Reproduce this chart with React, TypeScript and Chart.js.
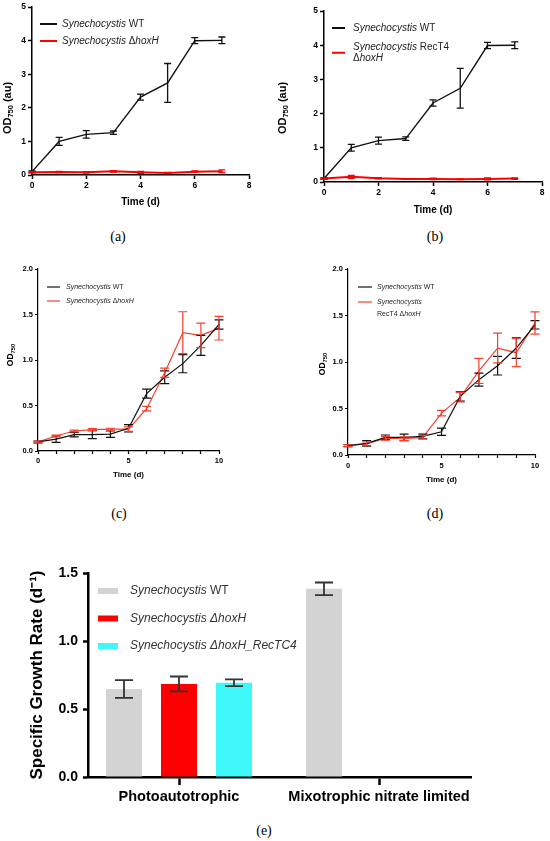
import React, { useEffect, useRef } from 'react';
import { Chart, registerables } from 'chart.js';

Chart.register(...registerables);

const FONT = "'Liberation Sans', Arial, Helvetica, sans-serif";
const SERIF = "'Liberation Serif', 'Times New Roman', serif";

// ---------- data ----------
const daysAB = [0, 1, 2, 3, 4, 5, 6, 7];
const wtA = [0.1, 1.0, 1.21, 1.26, 2.32, 2.74, 4.0, 4.01];
const wtAErr = [0.02, 0.12, 0.11, 0.05, 0.09, 0.58, 0.09, 0.1];
const hoxA = [0.08, 0.09, 0.08, 0.11, 0.08, 0.06, 0.1, 0.11];
const hoxAErr = [0.02, 0.02, 0.02, 0.02, 0.03, 0.02, 0.02, 0.04];

const wtB = [0.1, 1.0, 1.21, 1.27, 2.31, 2.74, 3.99, 4.0];
const wtBErr = [0.02, 0.1, 0.1, 0.05, 0.09, 0.58, 0.09, 0.1];
const recB = [0.1, 0.15, 0.11, 0.09, 0.09, 0.08, 0.09, 0.1];
const recBErr = [0.02, 0.04, 0.02, 0.01, 0.02, 0.01, 0.03, 0.02];

const daysCD = [0, 1, 2, 3, 4, 5, 6, 7, 8, 9, 10];
const wtC = [0.1, 0.13, 0.18, 0.18, 0.185, 0.25, 0.63, 0.81, 0.96, 1.16, 1.39];
const wtCErr = [0.01, 0.035, 0.025, 0.045, 0.035, 0.04, 0.05, 0.07, 0.1, 0.11, 0.05];
const hoxC = [0.1, 0.165, 0.22, 0.235, 0.24, 0.24, 0.465, 0.86, 1.3, 1.27, 1.35];
const hoxCErr = [0.01, 0.01, 0.01, 0.01, 0.01, 0.025, 0.025, 0.05, 0.23, 0.135, 0.13];

const wtD = [0.1, 0.125, 0.19, 0.19, 0.2, 0.25, 0.63, 0.81, 0.96, 1.15, 1.4];
const wtDErr = [0.01, 0.03, 0.025, 0.035, 0.025, 0.04, 0.05, 0.07, 0.1, 0.11, 0.045];
const recD = [0.1, 0.12, 0.18, 0.175, 0.19, 0.45, 0.62, 0.905, 1.15, 1.1, 1.42];
const recDErr = [0.01, 0.02, 0.02, 0.02, 0.02, 0.03, 0.05, 0.135, 0.16, 0.15, 0.12];

const rateCategories = ['Photoautotrophic', 'Mixotrophic nitrate limited'];
const wtRates = [0.647, 1.384];
const wtRateErr = [0.065, 0.046];
const hoxRates = [0.684, null];
const hoxRateErr = [0.055, null];
const recRates = [0.693, null];
const recRateErr = [0.025, null];

const xTicksAB = [0, 2, 4, 6, 8];
const yTicksAB = [0, 1, 2, 3, 4, 5];
const ticksCD = [0, 1, 2, 3, 4, 5, 6, 7, 8, 9, 10];
const xLabelsCD = [0, 5, 10];
const yTicksCD = [0, 0.5, 1, 1.5, 2];
const yTicksE = [0, 0.5, 1, 1.5];

// axis title parts: [text, subscript]
const OD_AU = [['OD', false], ['750', true], [' (au)', false]];
const OD_ONLY = [['OD', false], ['750', true]];

// legend labels: [text, italic]
const LBL_WT = [[['Synechocystis', true], [' WT', false]]];
const LBL_HOX = [[['Synechocystis ', true], ['\u0394', false], ['hoxH', true]]];
const LBL_REC_B = [[['Synechocystis', true], [' RecT4', false]], [['\u0394', false], ['hoxH', true]]];
const LBL_REC_D = [[['Synechocystis', true]], [['RecT4 ', false], ['\u0394', false], ['hoxH', true]]];
const LBL_E_WT = [[['Synechocystis', true], [' WT', false]]];
const LBL_E_HOX = [[['Synechocystis \u0394hoxH', true]]];
const LBL_E_REC = [[['Synechocystis \u0394hoxH_RecTC4', true]]];

// ---------- plugins ----------
function makeErrorBarPlugin(capHalf: number, width: number) {
  return {
    id: 'errorBars',
    afterDatasetsDraw(chart: any) {
      const ctx = chart.ctx;
      const yScale = chart.scales.y;
      chart.data.datasets.forEach((ds: any, di: number) => {
        const errs = ds.errorBars;
        if (!errs) return;
        const meta = chart.getDatasetMeta(di);
        if (meta.hidden) return;
        ctx.save();
        ctx.strokeStyle = ds.errorColor || ds.borderColor;
        ctx.lineWidth = width;
        meta.data.forEach((el: any, i: number) => {
          const raw = ds.data[i];
          const v = raw ? raw.y : null;
          const e = errs[i];
          if (v == null || e == null) return;
          const x = el.x;
          const yt = yScale.getPixelForValue(v + e);
          const yb = yScale.getPixelForValue(v - e);
          ctx.beginPath();
          ctx.moveTo(x, yt);
          ctx.lineTo(x, yb);
          ctx.moveTo(x - capHalf, yt);
          ctx.lineTo(x + capHalf, yt);
          ctx.moveTo(x - capHalf, yb);
          ctx.lineTo(x + capHalf, yb);
          ctx.stroke();
        });
        ctx.restore();
      });
    },
  };
}

function makeLegendPlugin(cfg: any) {
  return {
    id: 'richLegend',
    afterDraw(chart: any) {
      const ctx = chart.ctx;
      ctx.save();
      ctx.textBaseline = 'middle';
      ctx.textAlign = 'left';
      cfg.items.forEach((item: any, i: number) => {
        const y = cfg.y + i * cfg.rowGap;
        const nLines = item.lines.length;
        const sy = cfg.sampleAlign === 'middle' ? y + ((nLines - 1) * cfg.lineH) / 2 : y;
        if (cfg.kind === 'box') {
          ctx.fillStyle = item.color;
          ctx.fillRect(cfg.x, sy - cfg.boxH / 2, cfg.sampleW, cfg.boxH);
        } else {
          ctx.strokeStyle = item.color;
          ctx.lineWidth = cfg.lineW;
          ctx.beginPath();
          ctx.moveTo(cfg.x, sy);
          ctx.lineTo(cfg.x + cfg.sampleW, sy);
          ctx.stroke();
        }
        ctx.fillStyle = cfg.textColor || '#222';
        item.lines.forEach((line: any, li: number) => {
          let tx = cfg.x + cfg.sampleW + cfg.gap;
          const ly = y + li * cfg.lineH;
          line.forEach((part: any) => {
            ctx.font = `${part[1] ? 'italic ' : ''}${cfg.size}px ${FONT}`;
            ctx.fillText(part[0], tx, ly);
            tx += ctx.measureText(part[0]).width;
          });
        });
      });
      ctx.restore();
    },
  };
}

// rotated y-axis title with a real subscript
function makeYTitlePlugin(cfg: any) {
  return {
    id: 'yTitleSub',
    afterDraw(chart: any) {
      const ctx = chart.ctx;
      ctx.save();
      ctx.translate(cfg.x, cfg.y);
      ctx.rotate(-Math.PI / 2);
      ctx.fillStyle = '#000';
      ctx.textBaseline = 'middle';
      ctx.textAlign = 'left';
      const fontFor = (sub: boolean) => `bold ${sub ? cfg.size * 0.68 : cfg.size}px ${FONT}`;
      let total = 0;
      cfg.parts.forEach((p: any) => {
        ctx.font = fontFor(p[1]);
        total += ctx.measureText(p[0]).width;
      });
      let tx = -total / 2;
      cfg.parts.forEach((p: any) => {
        ctx.font = fontFor(p[1]);
        ctx.fillText(p[0], tx, p[1] ? cfg.size * 0.3 : 0);
        tx += ctx.measureText(p[0]).width;
      });
      ctx.restore();
    },
  };
}

// ---------- configs ----------
function lineConfig(p: any) {
  const { rect, area } = p;
  const datasets = p.series.map((s: any) => ({
    data: s.x.map((d: number, i: number) => ({ x: d, y: s.y[i] })),
    errorBars: s.err,
    borderColor: s.color,
    borderWidth: s.width,
    pointRadius: 0,
    pointHoverRadius: 0,
    tension: 0,
    fill: false,
    clip: false,
  }));
  const axisCommon = (tickLen: number) => ({
    grid: {
      display: true,
      drawOnChartArea: false,
      drawTicks: true,
      tickLength: tickLen,
      tickWidth: p.axisWidth,
      tickColor: '#000',
      color: '#000',
    },
    border: { display: true, color: '#000', width: p.axisWidth },
  });
  return {
    type: 'line',
    data: { datasets },
    plugins: [
      makeErrorBarPlugin(p.capHalf, p.errWidth),
      makeLegendPlugin(p.legend),
      makeYTitlePlugin(p.yTitle),
    ],
    options: {
      responsive: false,
      animation: false,
      events: [],
      layout: { padding: { top: area.top, right: rect.w - area.right, left: 0, bottom: 0 } },
      plugins: { legend: { display: false }, tooltip: { enabled: false }, title: { display: false } },
      scales: {
        x: {
          type: 'linear',
          min: 0,
          max: p.xMax,
          afterBuildTicks: (s: any) => {
            s.ticks = p.xTicks.map((v: number) => ({ value: v }));
          },
          ticks: {
            autoSkip: false,
            maxRotation: 0,
            font: { family: FONT, size: p.tickSize, weight: 'bold' },
            color: '#000',
            padding: p.xTickPad,
            callback: (v: any) => (p.xLabels.includes(v) ? String(v) : ''),
          },
          ...axisCommon(p.tickLen),
          title: {
            display: true,
            text: 'Time (d)',
            color: '#000',
            font: { family: FONT, size: p.xTitleSize, weight: 'bold' },
            padding: { top: 0, bottom: rect.h - p.xTitleY - (p.xTitleSize * 1.2) / 2 },
          },
          afterFit: (s: any) => {
            s.height = rect.h - area.bottom;
          },
        },
        y: {
          type: 'linear',
          min: 0,
          max: p.yMax,
          afterBuildTicks: (s: any) => {
            s.ticks = p.yTicks.map((v: number) => ({ value: v }));
          },
          ticks: {
            font: { family: FONT, size: p.tickSize, weight: 'bold' },
            color: '#000',
            padding: p.yTickPad,
            callback: (v: any) => Number(v).toFixed(p.yDecimals),
          },
          ...axisCommon(p.tickLen),
          title: { display: false },
          afterFit: (s: any) => {
            s.width = area.left;
          },
        },
      },
    },
  };
}

const panelA = {
  rect: { x: 0, y: 0, w: 275, h: 215 },
  area: { left: 32, top: 7, right: 249, bottom: 175 },
  xMax: 8, xTicks: xTicksAB, xLabels: xTicksAB,
  yMax: 5, yTicks: yTicksAB, yDecimals: 0,
  tickSize: 8.5, tickLen: 4, xTickPad: 2, yTickPad: 2, axisWidth: 1.5,
  xTitleSize: 10, xTitleY: 202,
  yTitle: { parts: OD_AU, size: 11, x: 8, y: 108 },
  capHalf: 3.5, errWidth: 1.3,
  series: [
    { x: daysAB, y: wtA, err: wtAErr, color: '#111', width: 1.4 },
    { x: daysAB, y: hoxA, err: hoxAErr, color: '#ff0000', width: 2 },
  ],
  legend: {
    x: 40, y: 24, rowGap: 17, sampleW: 17, gap: 5, size: 10, lineH: 11.5, kind: 'line', lineW: 2,
    items: [ { color: '#111', lines: LBL_WT }, { color: '#ff0000', lines: LBL_HOX } ],
  },
};

const panelB = {
  rect: { x: 275, y: 0, w: 275, h: 220 },
  area: { left: 49, top: 11, right: 267, bottom: 182 },
  xMax: 8, xTicks: xTicksAB, xLabels: xTicksAB,
  yMax: 5, yTicks: yTicksAB, yDecimals: 0,
  tickSize: 8.5, tickLen: 4, xTickPad: 2, yTickPad: 2, axisWidth: 1.5,
  xTitleSize: 10, xTitleY: 210,
  yTitle: { parts: OD_AU, size: 11, x: 8, y: 108 },
  capHalf: 3.5, errWidth: 1.3,
  series: [
    { x: daysAB, y: wtB, err: wtBErr, color: '#111', width: 1.4 },
    { x: daysAB, y: recB, err: recBErr, color: '#ff0000', width: 2 },
  ],
  legend: {
    x: 57, y: 28, rowGap: 19, sampleW: 13, gap: 8, size: 10, lineH: 11.5, kind: 'line', lineW: 2,
    sampleAlign: 'middle',
    items: [ { color: '#111', lines: LBL_WT }, { color: '#ff0000', lines: LBL_REC_B } ],
  },
};

const panelC = {
  rect: { x: 0, y: 255, w: 275, h: 230 },
  area: { left: 38, top: 14, right: 219, bottom: 196 },
  xMax: 10, xTicks: ticksCD, xLabels: xLabelsCD,
  yMax: 2, yTicks: yTicksCD, yDecimals: 1,
  tickSize: 7.5, tickLen: 3, xTickPad: 2, yTickPad: 2, axisWidth: 1.2,
  xTitleSize: 8, xTitleY: 220,
  yTitle: { parts: OD_ONLY, size: 8.5, x: 11, y: 100 },
  capHalf: 4.5, errWidth: 1.2,
  series: [
    { x: daysCD, y: wtC, err: wtCErr, color: '#111', width: 1.2 },
    { x: daysCD, y: hoxC, err: hoxCErr, color: '#f5412d', width: 1.2 },
  ],
  legend: {
    x: 47, y: 32, rowGap: 14, sampleW: 13, gap: 6, size: 7, lineH: 11, kind: 'line', lineW: 1.2,
    items: [ { color: '#111', lines: LBL_WT }, { color: '#f5412d', lines: LBL_HOX } ],
  },
};

const panelD = {
  rect: { x: 310, y: 255, w: 240, h: 235 },
  area: { left: 38, top: 14, right: 225, bottom: 200 },
  xMax: 10, xTicks: ticksCD, xLabels: xLabelsCD,
  yMax: 2, yTicks: yTicksCD, yDecimals: 1,
  tickSize: 7.5, tickLen: 3, xTickPad: 3, yTickPad: 2, axisWidth: 1.2,
  xTitleSize: 8, xTitleY: 225,
  yTitle: { parts: OD_ONLY, size: 8.5, x: 13, y: 109 },
  capHalf: 4.5, errWidth: 1.2,
  series: [
    { x: daysCD, y: wtD, err: wtDErr, color: '#111', width: 1.2 },
    { x: daysCD, y: recD, err: recDErr, color: '#f5412d', width: 1.2 },
  ],
  legend: {
    x: 48, y: 32, rowGap: 15, sampleW: 14, gap: 5, size: 7, lineH: 12, kind: 'line', lineW: 1.2,
    sampleAlign: 'first',
    items: [ { color: '#111', lines: LBL_WT }, { color: '#f5412d', lines: LBL_REC_D } ],
  },
};

const rectE = { x: 0, y: 555, w: 550, h: 255 };
const areaE = { left: 88, top: 18, right: 471, bottom: 222 };

function barConfig() {
  const mk = (vals: any[], errs: any[], color: string) => ({
    data: rateCategories.map((_, i) => ({ x: i, y: vals[i] })),
    errorBars: errs,
    errorColor: '#333',
    backgroundColor: color,
    borderWidth: 0,
    categoryPercentage: 0.825,
    barPercentage: 0.655,
  });
  const yTitleSize = 17;
  const catSize = 14.5;
  return {
    type: 'bar',
    data: {
      datasets: [
        mk(wtRates, wtRateErr, '#d3d3d3'),
        mk(hoxRates, hoxRateErr, '#ff0000'),
        mk(recRates, recRateErr, '#3ff8fa'),
      ],
    },
    plugins: [
      makeErrorBarPlugin(9, 1.8),
      makeLegendPlugin({
        x: 98, y: 36, rowGap: 27.5, sampleW: 20, gap: 12, size: 12, lineH: 14, kind: 'box', boxH: 6,
        textColor: '#333',
        items: [
          { color: '#d3d3d3', lines: LBL_E_WT },
          { color: '#ff0000', lines: LBL_E_HOX },
          { color: '#3ff8fa', lines: LBL_E_REC },
        ],
      }),
    ],
    options: {
      responsive: false,
      animation: false,
      events: [],
      layout: { padding: { top: areaE.top, right: rectE.w - areaE.right, left: 0, bottom: 0 } },
      plugins: { legend: { display: false }, tooltip: { enabled: false }, title: { display: false } },
      scales: {
        x: {
          type: 'linear',
          min: -0.455,
          max: 1.46,
          offset: false,
          afterBuildTicks: (s: any) => {
            s.ticks = rateCategories.map((_, i) => ({ value: i }));
          },
          ticks: {
            autoSkip: false,
            maxRotation: 0,
            font: { family: FONT, size: catSize, weight: 'bold' },
            color: '#000',
            padding: 3,
            callback: (v: any) => rateCategories[v] ?? '',
          },
          grid: {
            display: true, offset: false, drawOnChartArea: false, drawTicks: true,
            tickLength: 8, tickWidth: 2.5, tickColor: '#000', color: '#000',
          },
          border: { display: true, color: '#000', width: 2.5 },
          afterFit: (s: any) => {
            s.height = rectE.h - areaE.bottom;
          },
        },
        y: {
          type: 'linear',
          min: 0,
          max: 1.5,
          afterBuildTicks: (s: any) => {
            s.ticks = yTicksE.map((v) => ({ value: v }));
          },
          ticks: {
            font: { family: FONT, size: 14, weight: 'bold' },
            color: '#000',
            padding: 5,
            callback: (v: any) => Number(v).toFixed(1),
          },
          grid: {
            display: true, drawOnChartArea: false, drawTicks: true,
            tickLength: 5, tickWidth: 2.5, tickColor: '#000', color: '#000',
          },
          border: { display: true, color: '#000', width: 2.5 },
          title: {
            display: true,
            text: 'Specific Growth Rate (d\u207B\u00B9)',
            color: '#000',
            font: { family: FONT, size: yTitleSize, weight: 'bold' },
            padding: { top: 37 - (yTitleSize * 1.2) / 2, bottom: 0 },
          },
          afterFit: (s: any) => {
            s.width = areaE.left;
          },
        },
      },
    },
  };
}

function ChartBox({ rect, makeConfig }: any) {
  const ref = useRef<HTMLCanvasElement>(null);
  useEffect(() => {
    const chart = new Chart(ref.current as any, makeConfig() as any);
    return () => chart.destroy();
  }, []);
  return (
    <canvas
      ref={ref}
      width={rect.w}
      height={rect.h}
      style={{ position: 'absolute', left: rect.x, top: rect.y, width: rect.w, height: rect.h }}
    />
  );
}

const captions = [
  { t: '(a)', x: 118, y: 237 },
  { t: '(b)', x: 435, y: 237 },
  { t: '(c)', x: 119, y: 514 },
  { t: '(d)', x: 435, y: 514 },
  { t: '(e)', x: 264, y: 831 },
];

export default function App() {
  return (
    <div style={{ position: 'absolute', left: 0, top: 0, width: 550, height: 841, background: '#fff', overflow: 'hidden' }}>
      <ChartBox rect={panelA.rect} makeConfig={() => lineConfig(panelA)} />
      <ChartBox rect={panelB.rect} makeConfig={() => lineConfig(panelB)} />
      <ChartBox rect={panelC.rect} makeConfig={() => lineConfig(panelC)} />
      <ChartBox rect={panelD.rect} makeConfig={() => lineConfig(panelD)} />
      <ChartBox rect={rectE} makeConfig={barConfig} />
      {captions.map((c) => (
        <div
          key={c.t}
          style={{
            position: 'absolute', left: c.x, top: c.y, transform: 'translate(-50%, -50%)',
            fontFamily: SERIF, fontSize: 14, color: '#000', lineHeight: 1, whiteSpace: 'nowrap',
          }}
        >
          {c.t}
        </div>
      ))}
    </div>
  );
}
